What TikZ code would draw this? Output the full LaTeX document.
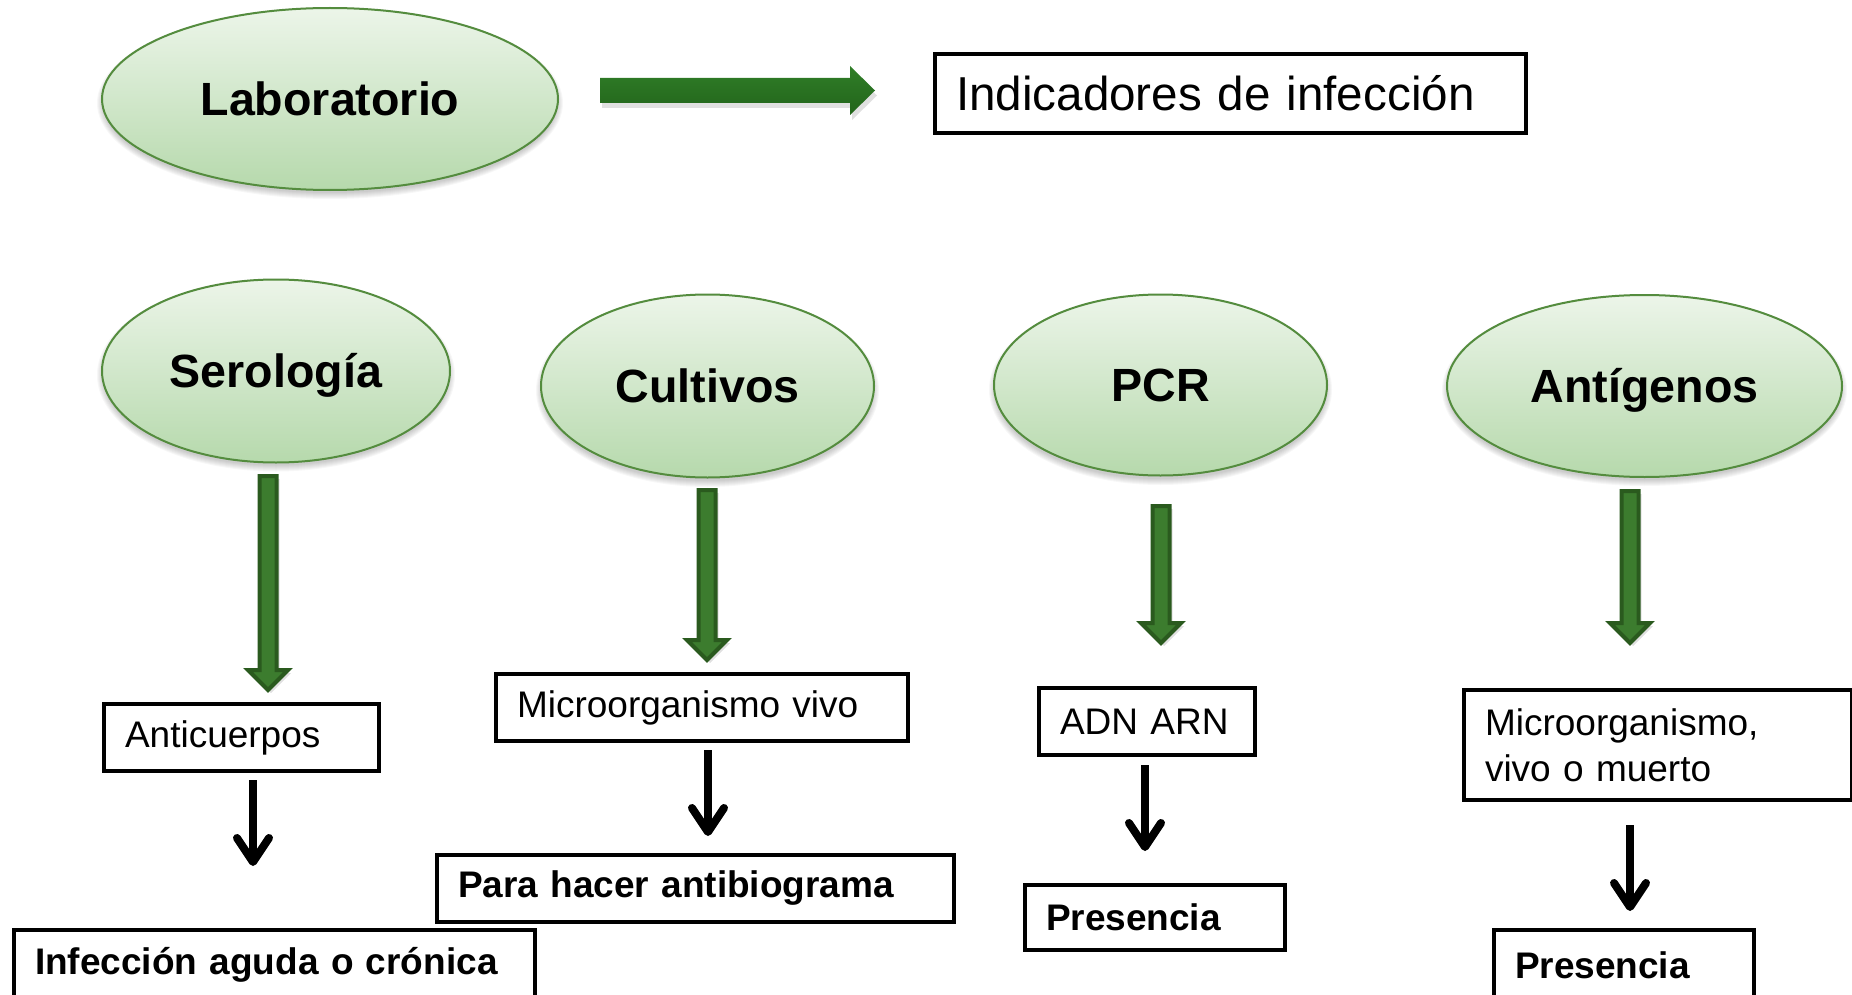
\documentclass[tikz,border=0pt]{standalone}
\usepackage{fontspec}
\setmainfont{Liberation Sans}
\usetikzlibrary{shapes.geometric,arrows.meta}
\definecolor{ellborder}{RGB}{84,140,62}
\definecolor{elltop}{RGB}{236,245,233}
\definecolor{ellbot}{RGB}{182,217,172}
\definecolor{gdark}{RGB}{42,90,30}
\definecolor{gfill}{RGB}{60,124,46}
\definecolor{htop}{RGB}{48,126,40}
\definecolor{hbot}{RGB}{34,100,26}
\newcommand\ovalshadow[4]{%
  \foreach \k in {0,...,6}{%
    \fill[black,opacity=0.03] (#1,#2+5) ellipse [x radius={(#3+\k-1)*0.5pt}, y radius={(#4+\k-1)*0.5pt}];}}
\newcommand\vgarrowdraw[4]{%
  \fill[black,opacity=0.12] (#1-8.5+3,#2+3) -- (#1+8.5+3,#2+3) -- (#1+8.5+3,#3+3) -- (#1+20+3,#3+3) -- (#1+3,#4+3) -- (#1-20+3,#3+3) -- (#1-8.5+3,#3+3) -- cycle;
  \draw[garrowstyle] (#1-8.5,#2) -- (#1+8.5,#2) -- (#1+8.5,#3) -- (#1+20,#3) -- (#1,#4) -- (#1-20,#3) -- (#1-8.5,#3) -- cycle;}
\begin{document}
\begin{tikzpicture}[x=0.5pt,y=-0.5pt,
  oval/.style={ellipse, draw=ellborder, line width=1pt, top color=elltop, bottom color=ellbot, inner sep=0pt, text height=16.4pt, text depth=0pt, font=\fontsize{23.3}{28}\selectfont\bfseries},
  tbox/.style={draw=black, line width=2pt, rectangle, anchor=north west, inner xsep=10.5pt, inner ysep=0pt, align=left, font=\fontsize{18.5}{23}\selectfont},
  bbox/.style={tbox, font=\fontsize{18.5}{23}\selectfont\bfseries},
  garrowstyle/.style={draw=gdark, fill=gfill, line width=2pt, line join=miter},
  karrow/.style={line width=4pt, -{Straight Barb[length=12pt,width=16pt,line cap=round,line join=round]}},
]
\useasboundingbox (0,0) rectangle (1852,995);
\clip (0,0) rectangle (1852,995);

% shadows of ovals
\ovalshadow{330}{98}{228}{91}
\ovalshadow{276}{370}{174}{91.5}
\ovalshadow{707.5}{385.5}{166.5}{91.5}
\ovalshadow{1160.5}{384.5}{166.5}{90.5}
\ovalshadow{1644.5}{385}{197.5}{91}

% ovals
\node[oval, minimum width=228pt, minimum height=91pt] (lab) at (330,99) {Laboratorio};
\node[oval, minimum width=174pt, minimum height=91.5pt] (ser) at (276,371) {Serología};
\node[oval, minimum width=166.5pt, minimum height=91.5pt] (cul) at (707.5,386) {Cultivos};
\node[oval, minimum width=166.5pt, minimum height=90.5pt] (pcr) at (1160.5,385) {PCR};
\node[oval, minimum width=197.5pt, minimum height=91pt] (ant) at (1644.5,386) {Antígenos};

% top box
\node[tbox, font=\fontsize{23.8}{28}\selectfont, text width=274.5pt, minimum height=39.5pt] (ind) at (933,52) {Indicadores de infección};

% horizontal green arrow
\coordinate (hstart) at (600,90.5);
\coordinate (hend) at (875,90.5);
\fill[black,opacity=0.12] (602,83) -- (852,83) -- (852,71) -- (877,95.5) -- (852,120) -- (852,108) -- (602,108) -- cycle;
\path[top color=htop, bottom color=hbot] (600,78) -- (850,78) -- (850,66) -- (hend) -- (850,115) -- (850,103) -- (600,103) -- cycle;

% vertical green arrows
\vgarrowdraw{268}{476}{670}{690}
\vgarrowdraw{707}{490}{640}{660}
\vgarrowdraw{1161}{506}{623}{643}
\vgarrowdraw{1630}{491}{623}{643}

% middle boxes
\node[tbox, text width=116.5pt, minimum height=33.5pt] (anti) at (102,702) {Anticuerpos};
\node[tbox, text width=185pt, minimum height=33.5pt] (mvivo) at (494,672) {Microorganismo vivo};
\node[tbox, text width=87pt, minimum height=33.5pt] (adn) at (1037,686) {ADN ARN};
\node[tbox, text width=173pt, minimum height=55pt] (mvm) at (1462,688) {Microorganismo,\\vivo o muerto};

% bottom boxes
\node[bbox, text width=239.5pt, minimum height=35pt] (inf) at (12,928) {Infección aguda o crónica};
\node[bbox, text width=237.5pt, minimum height=33.5pt] (para) at (435,853) {Para hacer antibiograma};
\node[bbox, text width=109pt, minimum height=32.5pt] (pres1) at (1023,883) {Presencia};
\node[bbox, text width=109pt, minimum height=35pt] (pres2) at (1492,928) {Presencia};

% black arrows
\coordinate (k1a) at (253,780); \coordinate (k1b) at (253,866);
\coordinate (k2a) at (708,750); \coordinate (k2b) at (708,836);
\coordinate (k3a) at (1145,765); \coordinate (k3b) at (1145,851);
\coordinate (k4a) at (1630,825); \coordinate (k4b) at (1630,911);
\draw[karrow] (k1a) -- (k1b);
\draw[karrow] (k2a) -- (k2b);
\draw[karrow] (k3a) -- (k3b);
\draw[karrow] (k4a) -- (k4b);
\end{tikzpicture}
\end{document}
